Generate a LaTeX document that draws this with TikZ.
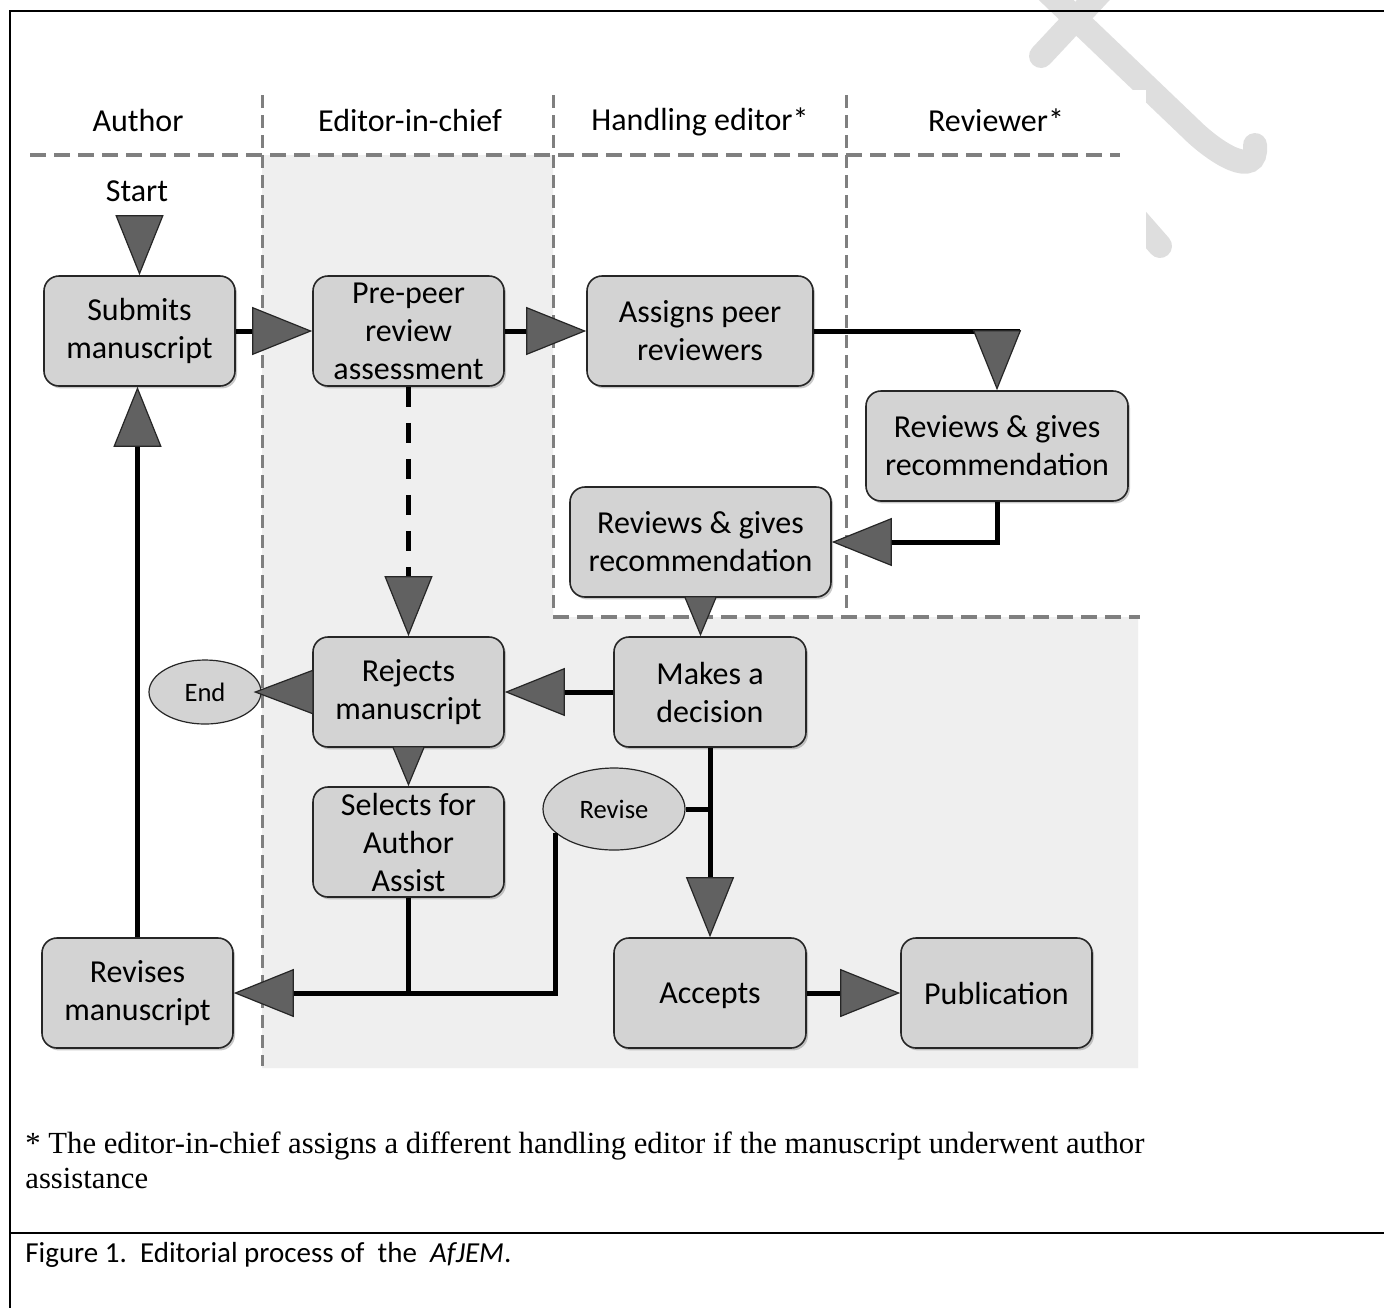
\documentclass[tikz,border=0pt]{standalone}
\usepackage{fontspec}
\setmainfont{Carlito}
\newfontfamily\serifft{Liberation Serif}
\usetikzlibrary{arrows.meta,shapes.geometric,shadows}
\definecolor{boxfill}{HTML}{D3D3D3}
\definecolor{tricol}{HTML}{616161}
\definecolor{lanegray}{HTML}{EFEFEF}
\definecolor{dashgray}{HTML}{7F7F7F}
\definecolor{wmgray}{HTML}{DEDEDE}
\begin{document}
\begin{tikzpicture}[x=0.5pt,y=-0.5pt,
  procbox/.style={draw=black!85, line width=0.8pt, fill=boxfill, rounded corners=7.5pt,
    align=center, inner sep=0pt, minimum width=95.5pt, minimum height=55pt,
    font=\fontsize{16}{19}\selectfont,
    drop shadow={shadow xshift=1pt, shadow yshift=-1.2pt, opacity=0.35, fill=black!60}},
  ell/.style={ellipse, draw=black!85, line width=0.6pt, fill=boxfill, inner sep=0pt,
    font=\fontsize{13.3}{16}\selectfont},
  hdr/.style={anchor=base, inner sep=0pt, font=\fontsize{16}{19}\selectfont},
  conn/.style={line width=2.5pt, black},
  bigtri/.style={-{Triangle[length=30pt,width=24pt,fill=tricol,color=black!85,line width=0.6pt]}},
  endtri/.style={-{Triangle[length=30pt,width=22.5pt,fill=tricol,color=black!85,line width=0.6pt]}, shorten >=-4pt},
  smalltri/.style={-{Triangle[length=20pt,width=16.5pt,fill=tricol,color=black!85,line width=0.6pt]}},
  dashconn/.style={dash pattern=on 10pt off 8pt},
  hdash/.style={dashgray, line width=2.2pt, dash pattern=on 8pt off 4pt},
  vdash/.style={dashgray, line width=1.5pt, dash pattern=on 6.5pt off 3.5pt},
  wm/.style={wmgray, line width=12pt, line cap=round}
]
\useasboundingbox (0,0) rectangle (1384,1308);
% watermark fragments
\draw[wm] (1112,-20) -- (1041,56);
\draw[wm] (1030,-25) -- (1190,128) .. controls (1215,153) and (1258,180) .. (1255,145);
\draw[wm] (1118,198) -- (1160,246);
\fill[white] (12,90) rectangle (1146,1085);
% shaded lanes
\fill[lanegray] (262,155) -- (553,155) -- (553,617) -- (1138,617) -- (1138,1068) -- (262,1068) -- cycle;
% lane separators
\draw[hdash] (30,155) -- (1120,155);
\draw[vdash] (262,95) -- (262,1066);
\draw[vdash] (553,95) -- (553,612);
\draw[vdash] (846,95) -- (846,608);
\draw[hdash] (553,617) -- (1140,617);
% frame
\draw[line width=1pt] (1384,11) -- (10,11) -- (10,1308);
\draw[line width=1pt] (10,1233) -- (1384,1233);
% headers
\node[hdr] (hA) at (138,131) {Author};
\node[hdr] (hE) at (410,131) {Editor-in-chief};
\node[hdr] (hH) at (700,130) {Handling editor*};
\node[hdr] (hR) at (996,131) {Reviewer*};
\node[hdr] (start) at (137,201) {Start};
\coordinate (st) at (139.5,215);
% boxes
\node[procbox] (sub) at (139.5,331) {Submits\\manuscript};
\node[procbox] (pre) at (408.5,331) {Pre-peer\\review\\assessment};
\node[procbox, minimum width=113pt] (asg) at (700,331) {Assigns peer\\reviewers};
\node[procbox, minimum width=131pt] (rv1) at (997,446) {Reviews \& gives\\recommendation};
\node[procbox, minimum width=130.5pt] (rv2) at (700.5,542) {Reviews \& gives\\recommendation};
\node[procbox, minimum width=96pt] (dec) at (710,692) {Makes a\\decision};
\node[procbox] (rej) at (408.5,692) {Rejects\\manuscript};
\node[procbox] (sel) at (408.5,842) {Selects for\\Author\\Assist};
\node[procbox] (rvs) at (137.5,993) {Revises\\manuscript};
\node[procbox, minimum width=96pt, text depth=0pt] (acc) at (710,993) {Accepts};
\node[procbox] (pub) at (996.5,993) {Publication};
\node[ell, minimum width=56pt, minimum height=32pt] (end) at (205,692) {End};
\node[ell, minimum width=71pt, minimum height=41pt] (rvse) at (614,809) {Revise};
% connectors
\coordinate (asgR) at (1020,331);
\draw[conn, bigtri] (st) -- (sub.north);
\draw[conn, bigtri] (sub.east) -- (pre.west);
\draw[conn, bigtri] (pre.east) -- (asg.west);
\draw[conn] (asg.east) -- (asgR);
\draw[conn, bigtri] (rv1.north |- asg.east) -- (rv1.north);
\draw[conn, bigtri] (rv1.south) |- (rv2.east);
\draw[conn, smalltri] (rv2.south) -- (rv2.south |- dec.north);
\draw[conn, bigtri] (dec.west) -- (rej.east);
\draw[conn, endtri] (rej.west) -- (end.east);
\draw[conn, smalltri] (rej.south) -- (sel.north);
\draw[conn, dashconn, bigtri] (pre.south) -- (rej.north);
\draw[conn, bigtri] (dec.south) -- (acc.north);
\draw[conn] (rvse.east) -- (rvse.east -| dec.south);
\draw[conn, bigtri] (rvse.202) |- (rvs.east);
\draw[conn] (sel.south) -- (sel.south |- rvs.east);
\draw[conn, bigtri] (rvs.north) -- (rvs.north |- sub.south);
\draw[conn, bigtri] (acc.east) -- (pub.west);
% footnote and caption
\node[anchor=base west, inner sep=0pt, font=\serifft\fontsize{15.35}{17.5}\selectfont] (fn1) at (25,1153) {* The editor-in-chief assigns a different handling editor if the manuscript underwent author};
\node[anchor=base west, inner sep=0pt, font=\serifft\fontsize{15.35}{17.5}\selectfont] (fn2) at (25,1188) {assistance};
\node[anchor=base west, inner sep=0pt, font=\fontsize{14.5}{17}\selectfont] (cap) at (25,1262) {Figure 1.\ \ Editorial process of\ \ the\ \ \textit{AfJEM}.};
\end{tikzpicture}
\end{document}
